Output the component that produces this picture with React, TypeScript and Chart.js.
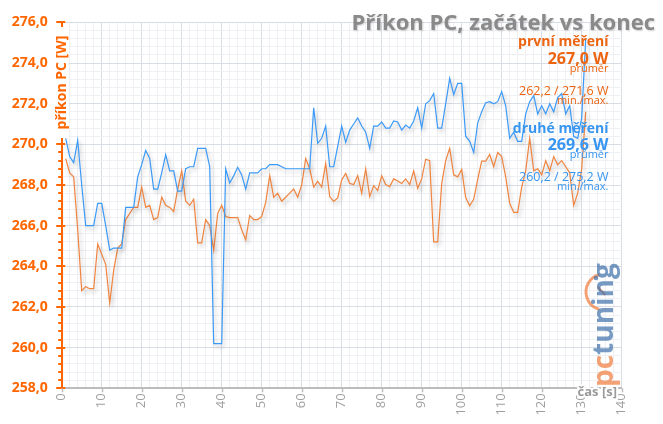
import React, { useEffect, useRef } from 'react';
import { Chart, registerables } from 'chart.js';

Chart.register(...registerables);

// Power draw samples, one per second (W) — first measurement (orange)
const firstRun: number[] = [
  269.3, 268.6, 268.4, 265.8, 262.8, 263.0, 262.9, 262.9, 265.1, 264.6,
  264.1, 262.2, 263.8, 264.9, 265.1, 266.3, 266.6, 266.9, 266.9, 267.9,
  266.9, 267.0, 266.3, 266.4, 267.4, 267.0, 266.9, 266.7, 267.8, 268.7,
  267.2, 267.0, 267.3, 265.15, 265.15, 266.3, 266.0, 264.8, 266.6, 267.0,
  266.45, 266.4, 266.4, 266.4, 265.8, 265.3, 266.5, 266.3, 266.3, 266.45,
  267.15, 268.46, 267.4, 267.6, 267.2, 267.4, 267.6, 267.8, 267.4, 268.0,
  269.3, 268.8, 267.9, 268.18, 267.9, 269.06, 267.43, 267.19, 267.37, 268.25,
  268.57, 268.08, 268.02, 268.46, 267.6, 268.79, 267.43, 267.97, 267.73, 268.46,
  268.02, 267.92, 268.3, 268.2, 268.08, 268.3, 268.02, 268.7, 267.84, 268.3,
  269.27, 269.2, 265.2, 265.2, 268.07, 269.2, 269.8, 268.5, 268.4, 268.77,
  267.38, 266.98, 267.3, 268.28, 269.18, 269.18, 269.5, 268.9, 269.6, 269.4,
  268.4, 267.1, 266.65, 266.65, 267.9, 268.7, 270.3, 268.7, 268.8, 268.5,
  269.2, 268.7, 269.4, 269.0, 269.2, 268.9, 268.6, 267.0, 267.6, 268.8,
  271.6,
];

// Second measurement (blue)
const secondRun: number[] = [
  270.3, 269.4, 269.1, 270.2, 268.0, 266.0, 266.0, 266.0, 267.1, 267.1,
  266.0, 264.8, 264.9, 264.9, 264.9, 266.9, 266.9, 266.9, 268.4, 269.0,
  269.7, 269.3, 267.8, 267.8, 268.6, 269.5, 268.7, 268.7, 267.7, 267.7,
  268.8, 268.9, 268.9, 269.8, 269.8, 269.8, 268.9, 260.2, 260.2, 260.2,
  268.8, 268.1, 268.45, 268.87, 268.5, 267.8, 268.6, 268.6, 268.6, 268.8,
  268.8, 269.0, 269.0, 269.0, 268.9, 268.8, 268.8, 268.8, 268.8, 268.8,
  268.8, 268.8, 271.8, 270.05, 270.3, 270.9, 268.9, 268.9, 269.9, 270.9,
  270.1, 270.7, 271.0, 271.3, 270.9, 270.6, 269.8, 270.9, 270.9, 271.1,
  270.8, 270.8, 271.15, 271.1, 270.7, 270.95, 270.8, 271.15, 271.8, 270.8,
  272.0, 272.15, 272.5, 270.8, 270.8, 272.0, 273.25, 272.45, 273.0, 273.0,
  270.4, 270.15, 269.6, 271.05, 271.6, 272.05, 272.1, 272.0, 272.1, 272.6,
  271.9, 270.3, 270.6, 270.15, 270.15, 271.5, 272.1, 272.4, 271.5, 271.9,
  271.5, 272.0, 271.6, 272.3, 272.5, 271.5, 271.9, 270.4, 270.3, 271.3,
  275.2,
];

// Sample times (s)
const seconds: number[] = firstRun.map((_, i) => i + 1);

const xRange = [0, 140];
const yRange = [258, 276];
const xStep = 2;
const xMajor = 10;
const yStep = 0.4;
const yMajor = 2;

const chartTitle = 'Příkon PC, začátek vs konec';
const yAxisTitle = 'příkon PC [W]';
const xAxisTitle = 'čas [s]';
const seriesNames = ['první měření', 'druhé měření'];
const seriesAverages = ['267,0 W', '269,6 W'];
const seriesRanges = ['262,2 / 271,6 W', '260,2 / 275,2 W'];
const averageCaption = 'průměr';
const rangeCaption = 'min./max.';
const logoParts = ['pc', 'tuning'];

const FONT = '"Open Sans", "DejaVu Sans", sans-serif';
const ORANGE_LINE = '#F0843F';
const BLUE_LINE = '#3B9AF7';
const ORANGE_TEXT = '#EC6410';
const BLUE_TEXT = '#3896F0';
const AXIS_ORANGE = '#FF6600';
const GRID_MAJOR = '#D9DDE6';
const GRID_MINOR = '#EEF0F4';

const isMultiple = (v: number, m: number) => Math.abs(v / m - Math.round(v / m)) < 1e-6;

const decorPlugin = {
  id: 'decor',
  beforeDatasetDraw(chart: any) {
    const ctx = chart.ctx;
    ctx.save();
    ctx.shadowColor = 'rgba(0,0,0,0.25)';
    ctx.shadowBlur = 4;
    ctx.shadowOffsetX = 2;
    ctx.shadowOffsetY = 3;
  },
  afterDatasetDraw(chart: any) {
    chart.ctx.restore();
  },
  afterDraw(chart: any) {
    const { ctx, chartArea: ca } = chart;
    const xs = chart.scales.x;
    const ys = chart.scales.y;
    ctx.save();

    // y tick marks
    ctx.strokeStyle = AXIS_ORANGE;
    ctx.lineWidth = 2;
    ys.ticks.forEach((t: any) => {
      const py = Math.round(ys.getPixelForValue(t.value));
      const major = isMultiple(t.value, yMajor);
      ctx.beginPath();
      ctx.moveTo(ca.left - (major ? 5.5 : 3.5), py);
      ctx.lineTo(ca.left + (major ? 3.5 : 0), py);
      ctx.stroke();
    });

    // x tick marks
    ctx.strokeStyle = '#BDBDBD';
    ctx.lineWidth = 1.5;
    xs.ticks.forEach((t: any) => {
      if (!isMultiple(t.value, xMajor)) return;
      const px = Math.round(xs.getPixelForValue(t.value)) + 0.5;
      ctx.beginPath();
      ctx.moveTo(px, ca.bottom);
      ctx.lineTo(px, ca.bottom + 4);
      ctx.stroke();
    });

    // y axis title on white background
    ctx.fillStyle = '#ffffff';
    ctx.fillRect(ca.left - 9, 27, 16, 111);
    ctx.save();
    ctx.translate(ca.left + 0.5, 82.5);
    ctx.rotate(-Math.PI / 2);
    ctx.font = `bold 14px ${FONT}`;
    ctx.textAlign = 'center';
    ctx.textBaseline = 'middle';
    ctx.fillStyle = AXIS_ORANGE;
    ctx.fillText(yAxisTitle, 0, 0);
    ctx.restore();

    // x axis title with halo
    ctx.font = `bold 13px ${FONT}`;
    ctx.textAlign = 'right';
    ctx.textBaseline = 'alphabetic';
    ctx.lineJoin = 'round';
    ctx.strokeStyle = '#ffffff';
    ctx.lineWidth = 4;
    ctx.strokeText(xAxisTitle, 617, 396);
    ctx.fillStyle = '#9A9A9A';
    ctx.fillText(xAxisTitle, 617, 396);

    // chart title
    ctx.save();
    ctx.shadowColor = 'rgba(0,0,0,0.18)';
    ctx.shadowBlur = 2;
    ctx.shadowOffsetX = 1;
    ctx.shadowOffsetY = 1;
    ctx.font = `bold 22px ${FONT}`;
    ctx.fillStyle = '#8A8A8A';
    ctx.textAlign = 'right';
    ctx.fillText(chartTitle, 655, 29.5);
    ctx.restore();

    // legend / statistics block
    const rx = 608.5;
    const rows: [string, string, string, number][] = [
      [seriesNames[0], `bold 14px ${FONT}`, ORANGE_TEXT, 45.5],
      [seriesAverages[0], `bold 16px ${FONT}`, ORANGE_TEXT, 63.5],
      [averageCaption, `11px ${FONT}`, ORANGE_TEXT, 71.5],
      [seriesRanges[0], `12.5px ${FONT}`, ORANGE_TEXT, 95],
      [rangeCaption, `11px ${FONT}`, ORANGE_TEXT, 104],
      [seriesNames[1], `bold 14px ${FONT}`, BLUE_TEXT, 132.5],
      [seriesAverages[1], `bold 16px ${FONT}`, BLUE_TEXT, 149.5],
      [averageCaption, `11px ${FONT}`, BLUE_TEXT, 157.5],
      [seriesRanges[1], `12.5px ${FONT}`, BLUE_TEXT, 180.5],
      [rangeCaption, `11px ${FONT}`, BLUE_TEXT, 190],
    ];
    ctx.textAlign = 'right';
    rows.forEach(([txt, font, color, by]) => {
      ctx.font = font;
      ctx.fillStyle = color;
      ctx.fillText(txt, rx, by);
    });

    // logo
    ctx.save();
    ctx.globalAlpha = 0.7;
    ctx.strokeStyle = '#F07A3A';
    ctx.lineWidth = 3;
    ctx.beginPath();
    ctx.arc(604, 292, 18, (-105 * Math.PI) / 180, (105 * Math.PI) / 180, true);
    ctx.stroke();
    ctx.lineWidth = 2;
    ctx.beginPath();
    ctx.moveTo(598, 287);
    ctx.lineTo(605, 295);
    ctx.stroke();
    ctx.fillStyle = '#3D6FA8';
    ctx.beginPath();
    ctx.arc(596, 278, 2.3, 0, Math.PI * 2);
    ctx.fill();
    ctx.translate(613, 387);
    ctx.rotate(-Math.PI / 2);
    ctx.font = `bold 28px ${FONT}`;
    ctx.textAlign = 'left';
    ctx.textBaseline = 'alphabetic';
    ctx.fillStyle = '#F07A3A';
    ctx.fillText(logoParts[0], 0, 0);
    const w0 = ctx.measureText(logoParts[0]).width;
    ctx.fillStyle = '#3D6FA8';
    ctx.fillText(logoParts[1], w0, 0);
    ctx.restore();

    ctx.restore();
  },
};

export default function App() {
  const canvasRef = useRef<HTMLCanvasElement | null>(null);

  useEffect(() => {
    if (!canvasRef.current) return;
    const gridColor = (c: any) =>
      c.tick && isMultiple(c.tick.value, c.scale.axis === 'x' ? xMajor : yMajor) ? GRID_MAJOR : GRID_MINOR;

    const chart = new Chart(canvasRef.current, {
      type: 'line',
      data: {
        datasets: [
          {
            label: seriesNames[1],
            data: secondRun.map((v, i) => ({ x: seconds[i], y: v })),
            borderColor: BLUE_LINE,
            borderWidth: 1.2,
            pointRadius: 0,
            tension: 0,
            fill: false,
          },
          {
            label: seriesNames[0],
            data: firstRun.map((v, i) => ({ x: seconds[i], y: v })),
            borderColor: ORANGE_LINE,
            borderWidth: 1.2,
            pointRadius: 0,
            tension: 0,
            fill: false,
          },
        ],
      },
      options: {
        responsive: false,
        animation: false,
        devicePixelRatio: 1,
        layout: { padding: { left: 0, top: 20.7, right: 41.3, bottom: 0 } },
        plugins: { legend: { display: false }, tooltip: { enabled: false }, title: { display: false } },
        scales: {
          x: {
            type: 'linear',
            min: xRange[0],
            max: xRange[1],
            afterFit: (s: any) => {
              s.height = 35.7;
            },
            ticks: {
              stepSize: xStep,
              autoSkip: false,
              minRotation: 90,
              maxRotation: 90,
              padding: 5,
              color: '#A0A0A0',
              font: { family: FONT, size: 13 },
              callback: (v: any) => (isMultiple(Number(v), xMajor) ? String(v) : ''),
            },
            grid: { color: gridColor, lineWidth: 1, drawTicks: false },
            border: { display: true, color: '#BDBDBD', width: 2 },
          },
          y: {
            type: 'linear',
            min: yRange[0],
            max: yRange[1],
            afterFit: (s: any) => {
              s.width = 61.7;
            },
            ticks: {
              stepSize: yStep,
              autoSkip: false,
              padding: 14,
              color: AXIS_ORANGE,
              font: { family: FONT, size: 14, weight: 'bold' },
              callback: (v: any) =>
                isMultiple(Number(v), yMajor) ? Number(v).toFixed(1).replace('.', ',') : '',
            },
            grid: { color: gridColor, lineWidth: 1, drawTicks: false },
            border: { display: true, color: AXIS_ORANGE, width: 2 },
          },
        },
      },
      plugins: [decorPlugin],
    } as any);

    const fonts: any = (document as any).fonts;
    if (fonts && fonts.load) {
      Promise.all([
        fonts.load(`bold 14px "Open Sans"`),
        fonts.load(`14px "Open Sans"`),
      ]).then(() => chart.update()).catch(() => {});
    }

    return () => chart.destroy();
  }, []);

  return (
    <div style={{ position: 'fixed', left: 0, top: 0, width: 663, height: 424, background: '#fff' }}>
      <canvas ref={canvasRef} width={663} height={424} style={{ width: 663, height: 424, display: 'block' }} />
    </div>
  );
}
